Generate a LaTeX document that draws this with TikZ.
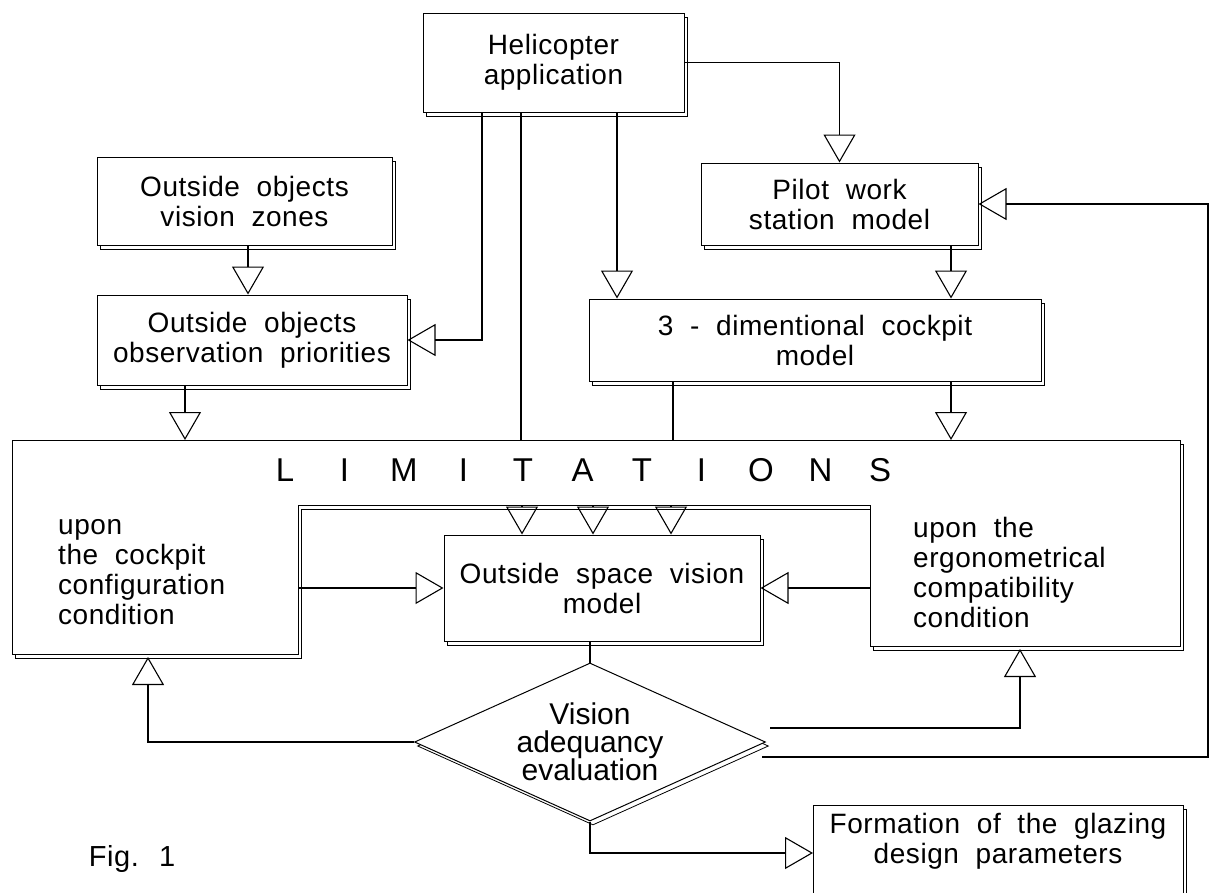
\documentclass[tikz,border=0pt]{standalone}
\usepackage{fontspec}
\setmainfont{Liberation Sans}
\newfontfamily\widefont{Liberation Sans}[WordSpace=2,LetterSpace=2]
\usetikzlibrary{arrows.meta,shapes.geometric,calc}
\newcommand\boxfont{\widefont\fontsize{28}{30}\selectfont}
\newcommand\diafont{\fontsize{30}{28}\selectfont}
\newcommand\limfont{\fontsize{33}{34}\selectfont}
\newcommand\figfont{\widefont\fontsize{29}{32}\selectfont}
\newcommand\limch[1]{\makebox[59.5pt]{#1}}
\tikzset{
  shadowed/.style={preaction={draw, line width=0.8pt, transform canvas={shift={(3pt,-4pt)}}}},
  box/.style={draw, fill=white, line width=1pt, inner sep=0pt, align=center, font=\boxfont, shadowed},
  subtext/.style={align=left, font=\boxfont, inner sep=0pt},
  conn/.style={line width=1.4pt},
  tri/.style={-{Triangle[open, length=28pt, width=32pt, line width=1.1pt]}},
}
\begin{document}
\begin{tikzpicture}[x=1pt,y=-1pt]
\useasboundingbox (0,0) rectangle (1212,892);
\fill[white] (0,0) rectangle (1212,892);

% LIMITATIONS frame
\coordinate (limTL) at (12,440);
\coordinate (limIT) at (298,505);
\coordinate (limITR) at (870,505);
\draw[line width=1pt, fill=white, shadowed] (limTL) -- (1180,440) -- (1180,646) -- (870,646) -- (limITR) -- (limIT) -- (298,654) -- (12,654) -- cycle;
\node[font=\limfont, inner sep=0pt] (limtext) at (582.5,470)
  {\limch{L}\limch{I}\limch{M}\limch{I}\limch{T}\limch{A}\limch{T}\limch{I}\limch{O}\limch{N}\limch{S}};
\node[subtext, anchor=west] (limL) at (58,572) {upon\\the cockpit\\configuration\\condition};
\node[subtext, anchor=west] (limR) at (913,572) {upon the\\ergonometrical\\compatibility\\condition};

% boxes
\node[box, minimum width=261, minimum height=99] (heli) at (553.5,62.5) {Helicopter\\application};
\node[box, minimum width=295, minimum height=88] (zones) at (244.5,201) {Outside objects\\vision zones};
\node[box, minimum width=310, minimum height=90] (prio) at (252,340) {Outside objects\\observation priorities};
\node[box, minimum width=277, minimum height=82] (pilot) at (839.5,204) {Pilot work\\station model};
\node[box, minimum width=452, minimum height=82] (cock) at (815,340) {3 - dimentional cockpit\\model};
\node[box, minimum width=316, minimum height=106] (outs) at (602,588) {Outside space vision\\model};
\node[diamond, draw, fill=white, line width=1pt, shadowed, minimum width=351, minimum height=158,
      aspect=2.2, inner sep=0pt, align=center, font=\diafont] (dia) at (590,742) {Vision\\adequancy\\evaluation};
\node[box, minimum width=370, minimum height=120, anchor=north west] (form) at (813,805) {};
\node[font=\boxfont, align=center, inner sep=0pt] (formtxt) at (998,841) {Formation of the glazing\\design parameters};
\node[font=\figfont, inner sep=0pt] (fig) at (132,859) {Fig. 1};

% guide coordinates
\coordinate (xA) at (482,0);
\coordinate (xB) at (521,0);
\coordinate (xC) at (617,0);
\coordinate (xD) at (951,0);
\coordinate (xE) at (185,0);
\coordinate (xF) at (673,0);
\coordinate (xZ) at (248,0);
\coordinate (xR) at (1208,0);
\coordinate (tL) at (148,657);
\coordinate (tR) at (1020,649);
\coordinate (sR) at (770,728);
\coordinate (sR2) at (762,757);
\coordinate (tF) at (813,853);

% connectors
\draw[conn,tri] (heli.east) -| (pilot.north);
\draw[conn,tri] (heli.south -| xA) |- (prio.east);
\draw[conn] (heli.south -| xB) -- (limTL -| xB);
\draw[conn,tri] (heli.south -| xC) -- (cock.north -| xC);
\draw[conn,tri] (pilot.south -| xD) -- (cock.north -| xD);
\draw[conn,tri] (zones.south -| xZ) -- (prio.north -| xZ);
\draw[conn,tri] (prio.south -| xE) -- (limTL -| xE);
\draw[conn] (cock.south -| xF) -- (limTL -| xF);
\draw[conn,tri] (cock.south -| xD) -- (limTL -| xD);
\foreach \dx in {-80,-9,69}
  \draw[conn,tri] ($(outs.north |- limIT)+(\dx,0)$) -- ($(outs.north)+(\dx,0)$);
\draw[conn,tri] (outs.west -| limIT) -- (outs.west);
\draw[conn,tri] (outs.east -| limITR) -- (outs.east);
\draw[conn] (dia.north |- outs.south) -- (dia.north);
\draw[conn,tri] (dia.west) -| (tL);
\draw[conn,tri] (sR) -| (tR);
\draw[conn,tri] (sR2) -| (xR |- pilot.east) -- (pilot.east);
\draw[conn,tri] (dia.south) |- (tF);
\end{tikzpicture}
\end{document}
